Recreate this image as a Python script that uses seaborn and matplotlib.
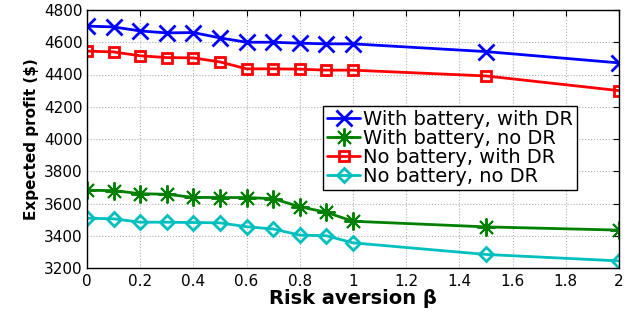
import pandas as pd
import matplotlib
matplotlib.use('Agg')
import matplotlib.pyplot as plt
import seaborn as sns

# risk aversion values on the x axis
beta = [0, 0.1, 0.2, 0.3, 0.4, 0.5, 0.6, 0.7, 0.8, 0.9, 1.0, 1.5, 2.0]

# expected profit for each case
with_batt_with_dr = [4700, 4695, 4670, 4658, 4660, 4627, 4600, 4600, 4594, 4590, 4590, 4542, 4472]
with_batt_no_dr = [3682, 3680, 3661, 3657, 3638, 3637, 3637, 3630, 3580, 3545, 3490, 3455, 3435]
no_batt_with_dr = [4545, 4540, 4516, 4505, 4503, 4478, 4435, 4435, 4433, 4427, 4427, 4391, 4300]
no_batt_no_dr = [3509, 3505, 3484, 3484, 3482, 3480, 3456, 3442, 3404, 3400, 3356, 3284, 3244]

labels = ['With battery, with DR', 'With battery, no DR',
          'No battery, with DR', 'No battery, no DR']
series = [with_batt_with_dr, with_batt_no_dr, no_batt_with_dr, no_batt_no_dr]
colors = ['#0000ff', '#008000', '#ff0000', '#00bfbf']
markers = ['x', (8, 2, 0), 's', 'D']
msizes = [11, 13, 7, 7]
edge_w = [2, 1.4, 2, 2]

x_ticks = [0, 0.2, 0.4, 0.6, 0.8, 1, 1.2, 1.4, 1.6, 1.8, 2]
x_tick_labels = ['0', '0.2', '0.4', '0.6', '0.8', '1', '1.2', '1.4', '1.6', '1.8', '2']
y_ticks = [3200, 3400, 3600, 3800, 4000, 4200, 4400, 4600, 4800]

sns.set_style('white')
plt.rcParams['font.family'] = ['DejaVu Sans']
plt.rcParams['text.color'] = 'black'
plt.rcParams['axes.labelcolor'] = 'black'
plt.rcParams['xtick.color'] = 'black'
plt.rcParams['ytick.color'] = 'black'

fig = plt.figure(figsize=(6.36, 3.12), dpi=100)
ax = fig.add_axes([87 / 636, 1 - 268 / 312, 532 / 636, 258 / 312])

for vals, lab, col, mk, ms, mew in zip(series, labels, colors, markers, msizes, edge_w):
    df = pd.DataFrame({'beta': beta, 'profit': vals})
    sns.lineplot(data=df, x='beta', y='profit', ax=ax, color=col, marker=mk,
                 markersize=ms, markerfacecolor='none', markeredgecolor=col,
                 markeredgewidth=mew, linewidth=2, label=lab)

ax.set_xlim(0, 2)
ax.set_ylim(3200, 4800)
ax.set_xticks(x_ticks)
ax.set_xticklabels(x_tick_labels)
ax.set_yticks(y_ticks)
ax.tick_params(direction='in', top=True, right=True, labelsize=11,
               length=4, width=0.8, colors='black')
ax.tick_params(axis='x', pad=4)
ax.tick_params(axis='y', pad=3)
ax.grid(True, linestyle=':', color='#b0b0b0', linewidth=0.8)
for sp in ax.spines.values():
    sp.set_color('black')
    sp.set_linewidth(1.0)

ax.set_xlabel('Risk aversion β', fontsize=14, fontweight='bold', labelpad=0)
ax.set_ylabel('Expected profit ($)', fontsize=11, fontweight='bold', labelpad=4)

leg = ax.legend(loc='upper left', bbox_to_anchor=(0.444, 0.628), borderaxespad=0,
                fontsize=14, frameon=True, fancybox=False, framealpha=1,
                edgecolor='black', handlelength=1.7, handletextpad=0.15,
                labelspacing=0.0, borderpad=0.2)
leg.get_frame().set_linewidth(1.0)

fig.savefig('out.png', dpi=100)
